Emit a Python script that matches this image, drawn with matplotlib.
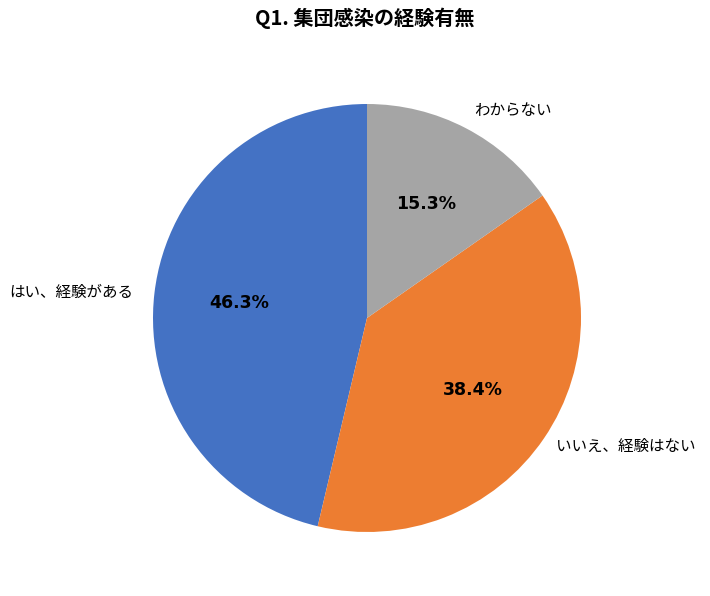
import matplotlib
matplotlib.use("Agg")
import matplotlib.pyplot as plt

plt.rcParams['font.family'] = ['Noto Sans CJK JP', 'DejaVu Sans']

title = "Q1. 集団感染の経験有無"
categories = ["はい、経験がある", "いいえ、経験はない", "わからない"]
values = [46.3, 38.4, 15.3]
colors = ["#4472C4", "#ED7D31", "#A5A5A5"]
label_positions = [(-1.38, 0.12), (1.21, -0.60), (0.68, 0.97)]

W, H = 710, 596
fig = plt.figure(figsize=(W / 100, H / 100), dpi=100)
cx, cy, r = 367, 318, 214
ax = fig.add_axes([(cx - r) / W, (H - cy - r) / H, 2 * r / W, 2 * r / H])

wedges, texts, autotexts = ax.pie(
    values, labels=categories, colors=colors, startangle=90, counterclock=True,
    autopct=lambda p: f"{p:.1f}%", pctdistance=0.6, labeldistance=1.25,
    textprops=dict(fontsize=11.2, color="#000000"),
)
for t, pos in zip(texts, label_positions):
    t.set_position(pos)
    t.set_ha("center")
    t.set_va("center")
for t in autotexts:
    t.set_fontsize(12.5)
    t.set_fontweight("bold")
    t.set_family(['DejaVu Sans'])
ax.set_xlim(-1, 1)
ax.set_ylim(-1, 1)
ax.set_aspect("equal")
fig.text((365) / W, 1 - 18 / H, title, ha="center", va="center", fontsize=14.5, fontweight="bold")
fig.savefig("out.png", dpi=100, facecolor="white")
